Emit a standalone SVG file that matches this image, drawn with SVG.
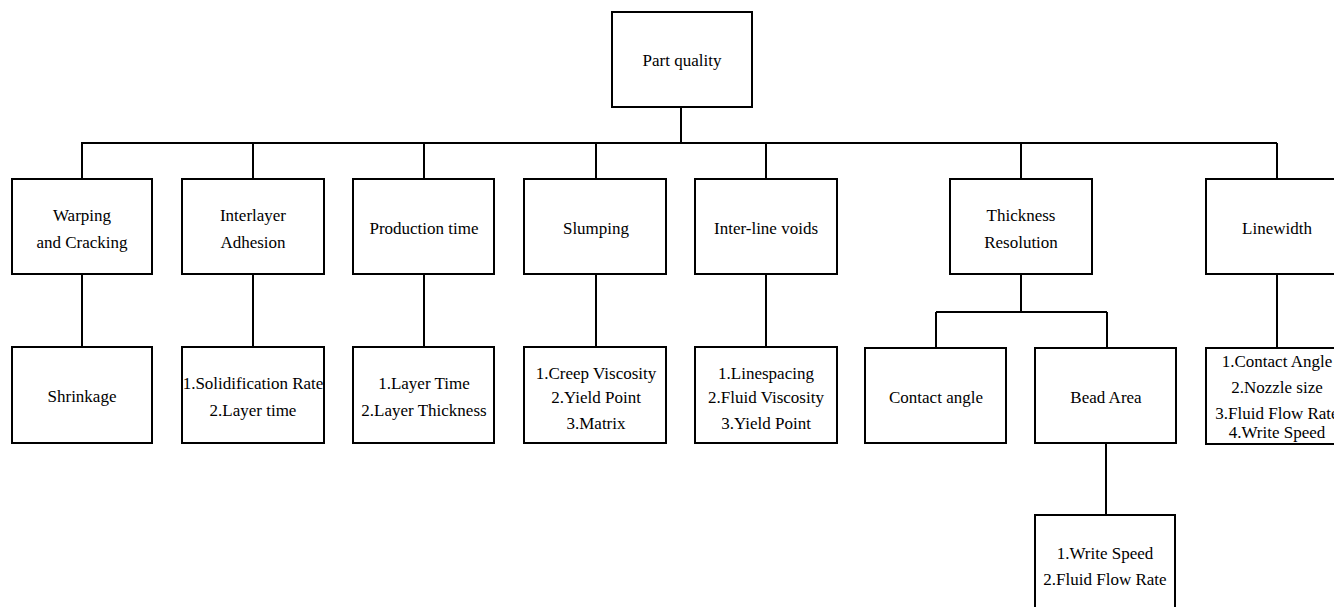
<svg xmlns="http://www.w3.org/2000/svg" width="1334" height="607" viewBox="0 0 1334 607" font-family="'Liberation Serif', 'Times New Roman', Times, serif">
<style>
.box{fill:#fff;stroke:#000;stroke-width:2}
.ln{fill:none;stroke:#000;stroke-width:2}
text{font-family:'Liberation Serif','Times New Roman',Times,serif;font-size:17px;fill:#000;text-anchor:middle}
</style>
<rect width="1334" height="607" fill="#fff"/>
<g id="connectors">
<path class="ln" d="M681 107V143M81 143H1277M82 143V179M253 143V179M424 143V179M596 143V179M766 143V179M1021 143V179M1277 143V179"/>
<path class="ln" d="M82 274V347M253 274V347M424 274V347M596 274V347M766 274V347M1277 274V348"/>
<path class="ln" d="M1021 274V312M936 312H1107M936 312V348M1107 312V348M1106 443V515"/>
</g>
<g id="n-root"><rect class="box" x="612" y="12" width="140" height="95"/><text x="682" y="66">Part quality</text></g>
<g id="n-warp"><rect class="box" x="12" y="179" width="140" height="95"/><text x="82" y="221">Warping</text><text x="82" y="248">and Cracking</text></g>
<g id="n-inter"><rect class="box" x="182" y="179" width="142" height="95"/><text x="253" y="221">Interlayer</text><text x="253" y="248">Adhesion</text></g>
<g id="n-prod"><rect class="box" x="353" y="179" width="141" height="95"/><text x="424" y="234">Production time</text></g>
<g id="n-slump"><rect class="box" x="524" y="179" width="142" height="95"/><text x="596" y="234">Slumping</text></g>
<g id="n-voids"><rect class="box" x="695" y="179" width="142" height="95"/><text x="766" y="234">Inter-line voids</text></g>
<g id="n-thick"><rect class="box" x="950" y="179" width="142" height="95"/><text x="1021" y="221">Thickness</text><text x="1021" y="248">Resolution</text></g>
<g id="n-linew"><rect class="box" x="1206" y="179" width="142" height="95"/><text x="1277" y="234">Linewidth</text></g>
<g id="n-shrink"><rect class="box" x="12" y="347" width="140" height="96"/><text x="82" y="402">Shrinkage</text></g>
<g id="n-adh2"><rect class="box" x="182" y="347" width="142" height="96"/><text x="253" y="389">1.Solidification Rate</text><text x="253" y="416">2.Layer time</text></g>
<g id="n-prod2"><rect class="box" x="353" y="347" width="141" height="96"/><text x="424" y="389">1.Layer Time</text><text x="424" y="416">2.Layer Thickness</text></g>
<g id="n-slump2"><rect class="box" x="524" y="347" width="142" height="96"/><text x="596" y="379">1.Creep Viscosity</text><text x="596" y="403">2.Yield Point</text><text x="596" y="429">3.Matrix</text></g>
<g id="n-voids2"><rect class="box" x="695" y="347" width="142" height="96"/><text x="766" y="379">1.Linespacing</text><text x="766" y="403">2.Fluid Viscosity</text><text x="766" y="429">3.Yield Point</text></g>
<g id="n-contact"><rect class="box" x="865" y="348" width="141" height="95"/><text x="936" y="403">Contact angle</text></g>
<g id="n-bead"><rect class="box" x="1035" y="348" width="141" height="95"/><text x="1106" y="403">Bead Area</text></g>
<g id="n-bead2"><rect class="box" x="1035" y="515" width="140" height="100"/><text x="1105" y="559">1.Write Speed</text><text x="1105" y="585">2.Fluid Flow Rate</text></g>
<g id="n-linew2"><rect class="box" x="1206" y="348" width="142" height="96"/><text x="1277" y="367">1.Contact Angle</text><text x="1277" y="393">2.Nozzle size</text><text x="1277" y="419">3.Fluid Flow Rate</text><text x="1277" y="438">4.Write Speed</text></g>
</svg>
